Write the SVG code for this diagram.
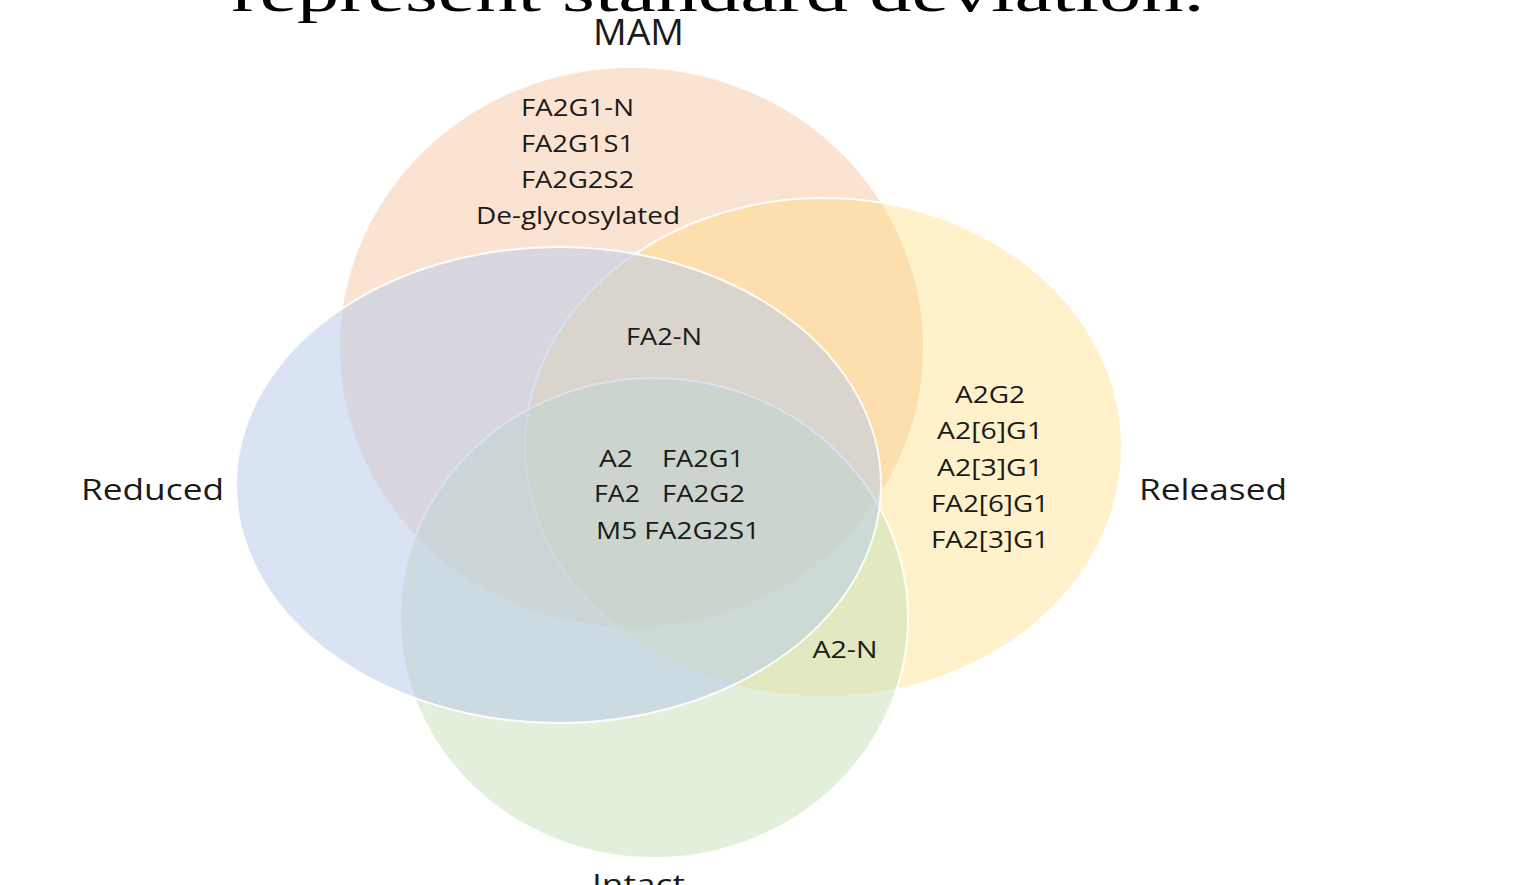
<svg xmlns="http://www.w3.org/2000/svg" width="1527" height="885" viewBox="0 0 1527 885">
<style>
.set{stroke:#ffffff;stroke-width:2;stroke-opacity:0.9}
.lbl{font-family:"Open Sans","Liberation Sans",sans-serif;fill:#1a1a1a;text-anchor:middle}
.item{font-size:24px}
.big{font-size:30px}
.cap{font-family:"Liberation Serif","DejaVu Serif",serif;font-size:56px;fill:#000;text-anchor:middle}
</style>
<rect width="1527" height="885" fill="#ffffff"/>
<text class="cap" x="718" y="11" textLength="973" lengthAdjust="spacingAndGlyphs">represent standard deviation.</text>
<g id="set-mam">
<ellipse class="set" cx="631.5" cy="347.5" rx="292.5" ry="280.5" fill="#f4b183" fill-opacity="0.36"/>
</g>
<g id="set-released">
<ellipse class="set" cx="823.5" cy="447.5" rx="298.5" ry="249.5" fill="#ffd966" fill-opacity="0.34"/>
</g>
<g id="set-intact">
<ellipse class="set" cx="654" cy="618" rx="254" ry="240" fill="#c5dfb5" fill-opacity="0.5"/>
</g>
<g id="set-reduced">
<ellipse class="set" cx="558.5" cy="485" rx="322.5" ry="238" fill="#b9cae8" fill-opacity="0.53"/>
</g>
<g id="connectors"></g>
<g id="labels">
<text class="lbl" x="638.5" y="45" font-size="37" textLength="91" lengthAdjust="spacingAndGlyphs">MAM</text>
<text class="lbl big" x="152.5" y="500" textLength="143" lengthAdjust="spacingAndGlyphs">Reduced</text>
<text class="lbl big" x="1213" y="500" textLength="148" lengthAdjust="spacingAndGlyphs">Released</text>
<text class="lbl big" x="638.5" y="895" textLength="93" lengthAdjust="spacingAndGlyphs">Intact</text>
</g>
<g id="region-mam-only">
<text class="lbl item" x="577.5" y="116" textLength="113" lengthAdjust="spacingAndGlyphs">FA2G1-N</text>
<text class="lbl item" x="577.5" y="152" textLength="113" lengthAdjust="spacingAndGlyphs">FA2G1S1</text>
<text class="lbl item" x="577.5" y="188" textLength="113" lengthAdjust="spacingAndGlyphs">FA2G2S2</text>
<text class="lbl item" x="578" y="224" textLength="204" lengthAdjust="spacingAndGlyphs">De-glycosylated</text>
</g>
<g id="region-mam-released-reduced">
<text class="lbl item" x="664" y="345" textLength="76" lengthAdjust="spacingAndGlyphs">FA2-N</text>
</g>
<g id="region-all">
<text class="lbl item" x="616" y="467" textLength="34" lengthAdjust="spacingAndGlyphs">A2</text>
<text class="lbl item" x="703" y="467" textLength="82" lengthAdjust="spacingAndGlyphs">FA2G1</text>
<text class="lbl item" x="617" y="502" textLength="46" lengthAdjust="spacingAndGlyphs">FA2</text>
<text class="lbl item" x="703.5" y="502" textLength="83" lengthAdjust="spacingAndGlyphs">FA2G2</text>
<text class="lbl item" x="678" y="539" textLength="164" lengthAdjust="spacingAndGlyphs">M5 FA2G2S1</text>
</g>
<g id="region-released-only">
<text class="lbl item" x="990" y="403" textLength="70" lengthAdjust="spacingAndGlyphs">A2G2</text>
<text class="lbl item" x="990" y="439" textLength="106" lengthAdjust="spacingAndGlyphs">A2[6]G1</text>
<text class="lbl item" x="990" y="476" textLength="106" lengthAdjust="spacingAndGlyphs">A2[3]G1</text>
<text class="lbl item" x="990" y="512" textLength="118" lengthAdjust="spacingAndGlyphs">FA2[6]G1</text>
<text class="lbl item" x="990" y="548" textLength="118" lengthAdjust="spacingAndGlyphs">FA2[3]G1</text>
</g>
<g id="region-released-intact">
<text class="lbl item" x="845" y="658" textLength="65" lengthAdjust="spacingAndGlyphs">A2-N</text>
</g>
</svg>
